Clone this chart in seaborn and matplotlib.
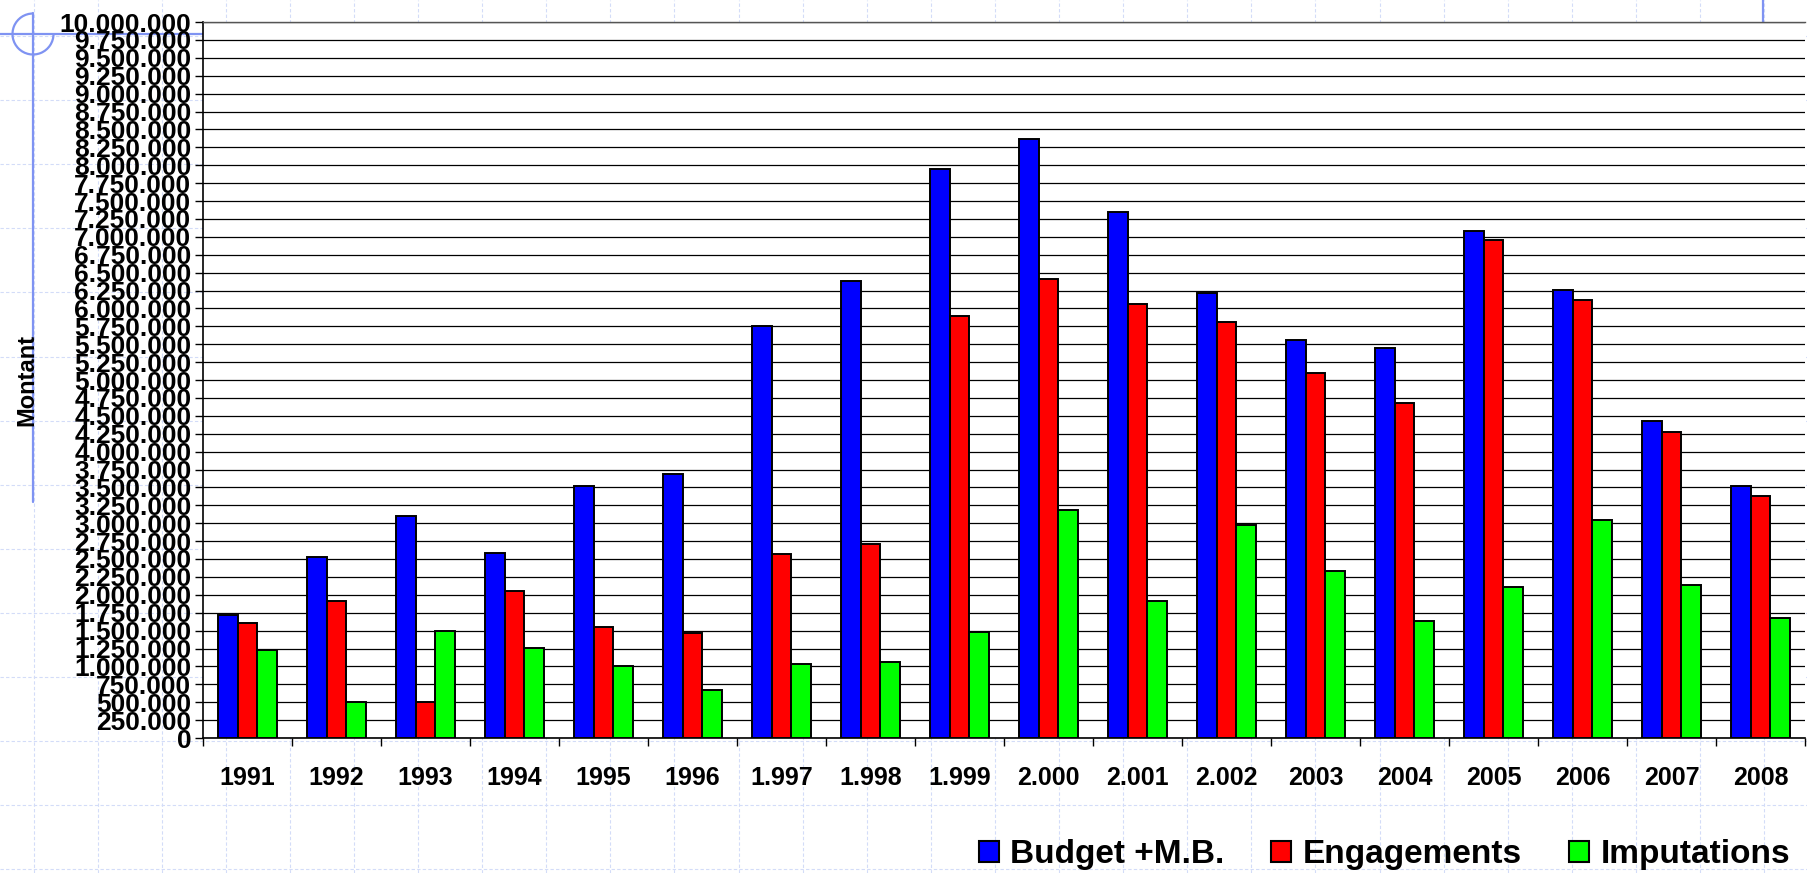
import numpy as np
import pandas as pd
import matplotlib.pyplot as plt
import seaborn as sns
from matplotlib.patches import Patch, Arc
from matplotlib.lines import Line2D
from matplotlib.ticker import FuncFormatter, MultipleLocator

# ------------------------------------------------------------
# DATA
# ------------------------------------------------------------
years = ["1991", "1992", "1993", "1994", "1995", "1996", "1.997", "1.998", "1.999",
         "2.000", "2.001", "2.002", "2003", "2004", "2005", "2006", "2007", "2008"]

budget = [1720000, 2530000, 3100000, 2590000, 3520000, 3690000, 5750000, 6380000, 7940000,
          8360000, 7350000, 6210000, 5560000, 5450000, 7080000, 6260000, 4430000, 3520000]
engagements = [1600000, 1920000, 500000, 2060000, 1550000, 1460000, 2570000, 2710000, 5900000,
               6410000, 6060000, 5810000, 5100000, 4680000, 6950000, 6120000, 4280000, 3380000]
imputations = [1230000, 500000, 1490000, 1260000, 1010000, 670000, 1040000, 1060000, 1480000,
               3180000, 1910000, 2970000, 2330000, 1630000, 2110000, 3040000, 2140000, 1680000]

series_names = ["Budget +M.B.", "Engagements", "Imputations"]
series_colors = ["#0000FF", "#FF0000", "#00FF00"]

# ------------------------------------------------------------
# STYLE
# ------------------------------------------------------------
sns.set_theme(style="white")
plt.rcParams["font.family"] = ["Liberation Sans", "DejaVu Sans"]
plt.rcParams["font.weight"] = "bold"
plt.rcParams["text.color"] = "black"
plt.rcParams["axes.labelcolor"] = "black"

df = pd.DataFrame({"Annee": years,
                   series_names[0]: budget,
                   series_names[1]: engagements,
                   series_names[2]: imputations})
df_long = df.melt(id_vars="Annee", var_name="Serie", value_name="Montant")

W, H = 1808, 873
fig = plt.figure(figsize=(W / 100, H / 100), dpi=100)
fig.patch.set_facecolor("white")

# slide template background (faint dashed grid + crosshair)
GRID = 64.1
TPL_BLUE = "#7f93f2"
for k in range(30):
    x = (33.5 + k * GRID) / W
    fig.add_artist(Line2D([x, x], [0, 1], transform=fig.transFigure, color="#d3dcf8",
                          lw=0.8, ls=(0, (3, 2)), zorder=-2))
for k in range(14):
    y = 1 - (36 + k * GRID) / H
    fig.add_artist(Line2D([0, 1], [y, y], transform=fig.transFigure, color="#d3dcf8",
                          lw=0.8, ls=(0, (3, 2)), zorder=-2))
fig.add_artist(Line2D([33 / W, 33 / W], [1 - 13 / H, 1 - 502 / H], transform=fig.transFigure,
                      color=TPL_BLUE, lw=1.6, zorder=-1))
fig.add_artist(Line2D([0, 203 / W], [1 - 34 / H, 1 - 34 / H], transform=fig.transFigure,
                      color=TPL_BLUE, lw=1.6, zorder=-1))
fig.add_artist(Line2D([1763 / W, 1763 / W], [1, 1 - 22 / H], transform=fig.transFigure,
                      color=TPL_BLUE, lw=1.6, zorder=-1))
fig.add_artist(Arc((33 / W, 1 - 34 / H), 41 / W, 41 / H, theta1=90, theta2=360,
                   transform=fig.transFigure, color=TPL_BLUE, lw=1.6, zorder=-1))

# ------------------------------------------------------------
# BARS
# ------------------------------------------------------------
ax = fig.add_axes([203 / W, 1 - 738 / H, 1602 / W, 716 / H])
ax.set_facecolor("white")

sns.barplot(
    data=df_long,
    x="Annee",
    y="Montant",
    hue="Serie",
    order=years,
    hue_order=series_names,
    palette=series_colors,
    saturation=1,
    width=0.66,
    edgecolor="black",
    linewidth=1.4,
    errorbar=None,
    legend=False,
    ax=ax,
    zorder=3,
)

ax.set_ylim(0, 10000000)
ax.set_xlim(-0.5, len(years) - 0.5)
ax.yaxis.set_major_locator(MultipleLocator(250000))
ax.yaxis.set_major_formatter(FuncFormatter(lambda v, p: f"{int(round(v)):,}".replace(",", ".")))
ax.yaxis.grid(True, color="black", lw=0.9)
ax.xaxis.grid(False)
ax.set_axisbelow(True)

# ticks between categories, labels at the centres
ax.set_xticks(np.arange(-0.5, len(years), 1))
ax.set_xticklabels([])
ax.set_xticks(np.arange(len(years)), labels=years, minor=True)
ax.tick_params(axis="x", which="major", bottom=True, direction="out", length=5.8,
               width=1, color="black")
ax.tick_params(axis="x", which="minor", bottom=True, length=0, pad=20,
               labelsize=18, labelcolor="black")
ax.tick_params(axis="y", which="major", left=True, direction="out", length=5.8,
               width=1, color="black", pad=2.5, labelsize=19, labelcolor="black")
for lab in ax.get_xticklabels(minor=True) + ax.get_yticklabels():
    lab.set_fontweight("bold")

for side in ["left", "bottom"]:
    ax.spines[side].set_color("black")
    ax.spines[side].set_linewidth(1.2)
ax.spines["top"].set_color("#555555")
ax.spines["top"].set_linewidth(1.0)
ax.spines["right"].set_visible(False)

ax.set_xlabel("")
ax.set_ylabel("Montant", fontsize=17, fontweight="bold", color="black")
ax.yaxis.set_label_coords((38 - 203) / 1602, 0.5)

# ------------------------------------------------------------
# LEGEND
# ------------------------------------------------------------
handles = [Patch(facecolor=c, edgecolor="black", linewidth=1.5, label=n)
           for n, c in zip(series_names, series_colors)]
fig.legend(
    handles=handles,
    loc="center right",
    bbox_to_anchor=(1790 / W, 1 - 855 / H),
    ncol=3,
    frameon=False,
    prop={"size": 24, "weight": "bold"},
    labelcolor="black",
    handlelength=0.6,
    handleheight=0.6,
    handletextpad=0.35,
    columnspacing=1.4,
    borderpad=0,
    borderaxespad=0,
)

fig.savefig("out.png", dpi=100, facecolor="white")
